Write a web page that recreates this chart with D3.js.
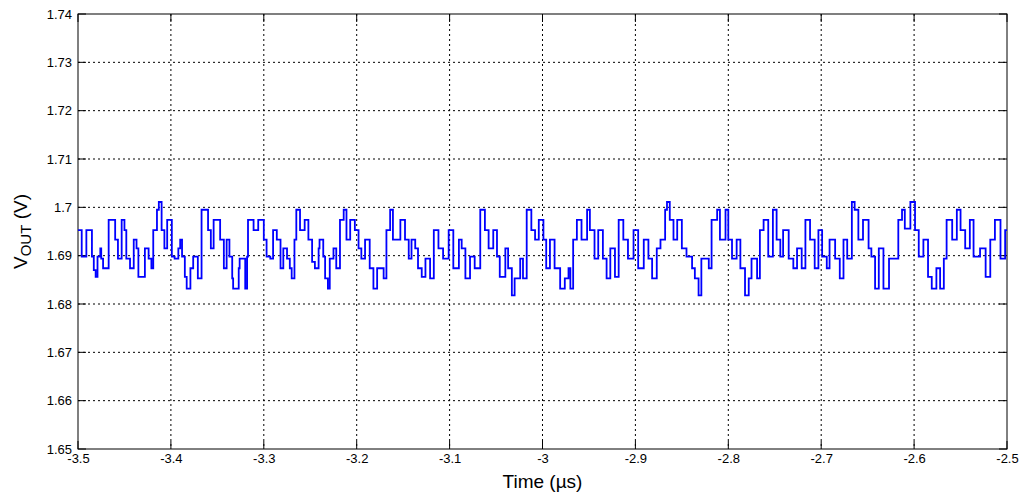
<!DOCTYPE html>
<html><head><meta charset="utf-8">
<script src="https://cdn.jsdelivr.net/npm/d3@7"></script>
<style>body{margin:0;background:#fff}</style>
</head><body>
<svg width="1024" height="498"></svg>
<script>
// time in µs, voltage in V
var times = [-3.500,-3.496,-3.491,-3.485,-3.483,-3.481,-3.479,-3.476,-3.475,-3.473,-3.467,-3.460,-3.457,-3.453,-3.450,-3.448,-3.444,-3.440,-3.437,-3.435,-3.428,-3.424,-3.421,-3.419,-3.415,-3.413,-3.410,-3.407,-3.404,-3.399,-3.396,-3.392,-3.390,-3.388,-3.385,-3.383,-3.379,-3.376,-3.371,-3.367,-3.360,-3.357,-3.354,-3.347,-3.343,-3.340,-3.337,-3.334,-3.333,-3.327,-3.326,-3.320,-3.318,-3.317,-3.311,-3.306,-3.300,-3.297,-3.293,-3.290,-3.286,-3.282,-3.279,-3.275,-3.272,-3.270,-3.267,-3.265,-3.261,-3.256,-3.252,-3.248,
 -3.245,-3.241,-3.240,-3.236,-3.234,-3.231,-3.229,-3.225,-3.222,-3.218,-3.214,-3.211,-3.207,-3.202,-3.198,-3.195,-3.191,-3.186,-3.182,-3.178,-3.171,-3.168,-3.164,-3.161,-3.153,-3.148,-3.144,-3.141,-3.137,-3.134,-3.130,-3.126,-3.121,-3.117,-3.112,-3.107,-3.101,-3.096,-3.090,-3.087,-3.083,-3.078,-3.073,-3.067,-3.062,-3.058,-3.053,-3.049,-3.046,-3.040,-3.037,-3.033,-3.030,-3.024,-3.021,-3.017,-3.012,-3.008,-3.004,
 -2.999,-2.996,-2.992,-2.987,-2.981,-2.976,-2.972,-2.970,-2.967,-2.963,-2.958,-2.952,-2.949,-2.944,-2.940,-2.935,-2.931,-2.927,-2.922,-2.918,-2.913,-2.908,-2.902,-2.897,-2.891,-2.886,-2.882,-2.877,-2.873,-2.868,-2.866,-2.863,-2.859,-2.855,-2.850,-2.845,-2.839,-2.836,-2.832,-2.829,-2.821,-2.818,-2.812,-2.809,-2.803,-2.800,-2.796,-2.791,-2.787,-2.782,-2.778,-2.775,-2.769,-2.766,-2.762,-2.757,
 -2.752,-2.748,-2.744,-2.741,-2.735,-2.730,-2.726,-2.721,-2.717,-2.712,-2.707,-2.703,-2.699,-2.694,-2.691,-2.685,-2.680,-2.676,-2.672,-2.667,-2.664,-2.660,-2.655,-2.649,-2.646,-2.642,-2.638,-2.633,-2.627,-2.622,-2.617,-2.613,-2.610,-2.604,-2.599,-2.595,-2.590,-2.585,-2.581,-2.576,-2.572,-2.568,-2.565,-2.559,-2.554,-2.550,-2.545,-2.540,-2.536,-2.529,-2.523,-2.518,-2.513,-2.507,-2.502,-2.500];
var volts = [1.6953,1.6898,1.6953,1.6898,1.6870,1.6856,1.6898,1.6915,1.6894,1.6874,1.6974,1.6933,1.6894,1.6974,1.6953,1.6894,1.6874,1.6933,1.6915,1.6856,1.6915,1.6894,1.6874,1.6953,1.6995,1.7011,1.6953,1.6915,1.6974,1.6898,1.6894,1.6915,1.6933,1.6898,1.6856,1.6832,1.6874,1.6898,1.6853,1.6995,1.6953,1.6915,1.6974,1.6933,1.6874,1.6933,1.6898,1.6853,1.6832,1.6874,1.6894,1.6832,1.6898,1.6974,1.6953,1.6974,1.6933,1.6898,1.6894,1.6953,1.6933,1.6874,1.6915,1.6894,1.6874,1.6853,1.6933,1.6995,1.6953,1.6974,1.6933,1.6887,
 1.6874,1.6915,1.6933,1.6898,1.6853,1.6832,1.6894,1.6915,1.6874,1.6974,1.6995,1.6933,1.6974,1.6953,1.6915,1.6894,1.6933,1.6874,1.6832,1.6874,1.6853,1.6953,1.6995,1.6933,1.6974,1.6933,1.6894,1.6933,1.6915,1.6874,1.6856,1.6894,1.6853,1.6953,1.6915,1.6894,1.6953,1.6874,1.6933,1.6915,1.6853,1.6898,1.6874,1.6995,1.6953,1.6915,1.6953,1.6898,1.6856,1.6915,1.6874,1.6818,1.6853,1.6894,1.6853,1.6995,1.6953,1.6933,1.6974,
 1.6933,1.6874,1.6933,1.6874,1.6832,1.6853,1.6874,1.6832,1.6933,1.6974,1.6933,1.6995,1.6953,1.6894,1.6953,1.6894,1.6853,1.6915,1.6856,1.6974,1.6933,1.6894,1.6953,1.6874,1.6933,1.6894,1.6853,1.6915,1.6933,1.6995,1.7011,1.6974,1.6933,1.6974,1.6915,1.6898,1.6874,1.6853,1.6818,1.6894,1.6874,1.6974,1.6995,1.6933,1.6995,1.6933,1.6894,1.6933,1.6874,1.6818,1.6853,1.6894,1.6853,1.6953,1.6974,1.6898,
 1.6995,1.6933,1.6898,1.6953,1.6894,1.6874,1.6915,1.6874,1.6974,1.6933,1.6874,1.6953,1.6898,1.6874,1.6933,1.6894,1.6853,1.6933,1.6894,1.7011,1.6995,1.6933,1.6974,1.6915,1.6898,1.6832,1.6915,1.6832,1.6894,1.6894,1.6974,1.6995,1.6956,1.7011,1.6953,1.6898,1.6933,1.6856,1.6832,1.6874,1.6832,1.6894,1.6974,1.6933,1.6995,1.6953,1.6915,1.6974,1.6898,1.6915,1.6856,1.6933,1.6974,1.6894,1.6953,1.6953];
var xTicks = [-3.5,-3.4,-3.3,-3.2,-3.1,-3,-2.9,-2.8,-2.7,-2.6,-2.5];
var yTicks = [1.65,1.66,1.67,1.68,1.69,1.7,1.71,1.72,1.73,1.74];

var svg = d3.select("svg"),
    mLeft = 78, mRight = 1007, mTop = 14, mBottom = 449;
var data = times.map(function(t, i){ return {t: t, v: volts[i]}; });

var x = d3.scaleLinear([-3.5, -2.5], [mLeft, mRight]);
var y = d3.scaleLinear([1.65, 1.74], [mBottom, mTop]);
var font = "Liberation Sans, Arial, sans-serif";

// grid
svg.append("g").selectAll("line").data(xTicks.slice(1, -1)).enter().append("line")
    .attr("x1", d => x(d)).attr("x2", d => x(d)).attr("y1", mTop).attr("y2", mBottom)
    .attr("stroke", "#000").attr("stroke-width", 1).attr("stroke-dasharray", "2,3");
svg.append("g").selectAll("line").data(yTicks.slice(1, -1)).enter().append("line")
    .attr("y1", d => y(d)).attr("y2", d => y(d)).attr("x1", mLeft).attr("x2", mRight)
    .attr("stroke", "#000").attr("stroke-width", 1).attr("stroke-dasharray", "2,3");

// axes
var ax = svg.append("g").attr("transform", "translate(0," + mBottom + ")")
    .call(d3.axisBottom(x).tickValues(xTicks).tickSize(0).tickPadding(5).tickFormat(d => String(d)));
var ay = svg.append("g").attr("transform", "translate(" + mLeft + ",0)")
    .call(d3.axisLeft(y).tickValues(yTicks).tickSize(0).tickPadding(6).tickFormat(d => String(d)));
[ax, ay].forEach(function(a){
    a.select(".domain").remove();
    a.selectAll("text").attr("font-family", font).attr("font-size", 13).attr("fill", "#000");
});
// inner tick marks
svg.append("g").selectAll("line").data(xTicks).enter().append("line")
    .attr("x1", d => x(d)).attr("x2", d => x(d)).attr("y1", mBottom).attr("y2", mBottom - 8).attr("stroke", "#000");
svg.append("g").selectAll("line").data(xTicks).enter().append("line")
    .attr("x1", d => x(d)).attr("x2", d => x(d)).attr("y1", mTop).attr("y2", mTop + 8).attr("stroke", "#000");
svg.append("g").selectAll("line").data(yTicks).enter().append("line")
    .attr("y1", d => y(d)).attr("y2", d => y(d)).attr("x1", mLeft).attr("x2", mLeft + 8).attr("stroke", "#000");
svg.append("g").selectAll("line").data(yTicks).enter().append("line")
    .attr("y1", d => y(d)).attr("y2", d => y(d)).attr("x1", mRight).attr("x2", mRight - 8).attr("stroke", "#000");

svg.append("rect").attr("x", mLeft).attr("y", mTop).attr("width", mRight - mLeft).attr("height", mBottom - mTop)
    .attr("fill", "none").attr("stroke", "#000");

// trace
var line = d3.line().x(d => x(d.t)).y(d => y(d.v)).curve(d3.curveStepAfter);
svg.append("path").datum(data).attr("d", line)
    .attr("fill", "none").attr("stroke", "#0000ff").attr("stroke-width", 1.8);

// labels
svg.append("text").attr("x", (mLeft + mRight) / 2).attr("y", 488).attr("text-anchor", "middle")
    .attr("font-family", font).attr("font-size", 19).text("Time (µs)");
var yl = svg.append("text").attr("transform", "translate(27," + ((mTop + mBottom) / 2) + ") rotate(-90)")
    .attr("text-anchor", "middle").attr("font-family", font).attr("font-size", 19);
yl.append("tspan").text("V");
yl.append("tspan").attr("font-size", 15).attr("dy", 4).text("OUT");
yl.append("tspan").attr("dy", -4).text(" (V)");
</script>
</body></html>
